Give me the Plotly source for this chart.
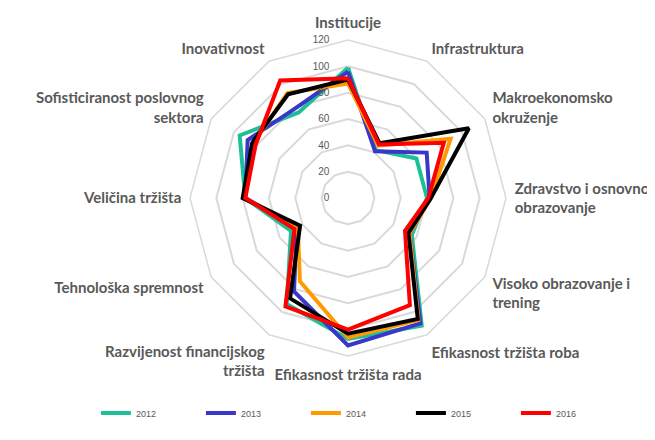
import plotly.graph_objects as go

categories = [
    "Institucije", "Infrastruktura", "Makroekonomsko<br>okruženje",
    "Zdravstvo i osnovno<br>obrazovanje", "Visoko obrazovanje i<br>trening",
    "Efikasnost tržišta roba", "Efikasnost tržišta rada",
    "Razvijenost financijskog<br>tržišta", "Tehnološka spremnost",
    "Veličina tržišta", "Sofisticiranost poslovnog<br>sektora", "Inovativnost",
]

years = ["2012", "2013", "2014", "2015", "2016"]
v2012 = [99, 42, 60, 60, 56, 112, 107, 93, 50, 78, 95, 75]
v2013 = [96, 41, 69, 62, 54, 110, 112, 82, 45, 78, 88, 79]
v2014 = [87, 46, 90, 63, 54, 107, 106, 73, 44, 79, 83, 92]
v2015 = [90, 48, 106, 63, 53, 106, 103, 88, 42, 80, 84, 91]
v2016 = [91, 47, 84, 61, 50, 94, 100, 95, 47, 78, 81, 103]
series = [v2012, v2013, v2014, v2015, v2016]
colors = ["#1DBF98", "#3A36C8", "#FF9A00", "#000000", "#FF0000"]

fig = go.Figure()
for name, vals, col in zip(years, series, colors):
    fig.add_trace(go.Scatterpolar(
        r=vals + [vals[0]], theta=categories + [categories[0]],
        mode="lines", name=name,
        line=dict(color=col, width=4),
    ))

W, H = 655, 440
cx, cy, R = 340, 190, 158
fig.update_layout(
    width=W, height=H,
    margin=dict(l=0, r=0, t=0, b=0, autoexpand=False),
    paper_bgcolor="white",
    showlegend=True,
    legend=dict(orientation="h", x=0.535, xanchor="center", y=(H - 405) / H, yanchor="middle",
                font=dict(size=9, color="#595959", family="Liberation Sans"),
                entrywidth=60, entrywidthmode="pixels", traceorder="normal",
                itemwidth=30, bgcolor="rgba(0,0,0,0)"),
    polar=dict(
        domain=dict(x=[(cx - R) / W, (cx + R) / W], y=[(H - cy - R) / H, (H - cy + R) / H]),
        bgcolor="white",
        gridshape="linear",
        radialaxis=dict(range=[0, 120], dtick=20, angle=90, side="counterclockwise",
                        tickangle=90, ticksuffix="\u2007\u2007\u2007",
                        showline=False, ticks="", gridcolor="#D9D9D9", gridwidth=1.5,
                        tickfont=dict(size=10, color="#595959", family="Liberation Sans")),
        angularaxis=dict(rotation=90, direction="clockwise", showgrid=False,
                         showline=True, linecolor="#D9D9D9", linewidth=1.5,
                         ticks="outside", ticklen=5, tickcolor="rgba(0,0,0,0)",
                         tickfont=dict(size=15, color="#595959", family="Lato",
                                       weight="bold"),
                         categoryorder="array", categoryarray=categories),
    ),
    font=dict(family="Liberation Sans"),
)
fig.write_html("out.html")
